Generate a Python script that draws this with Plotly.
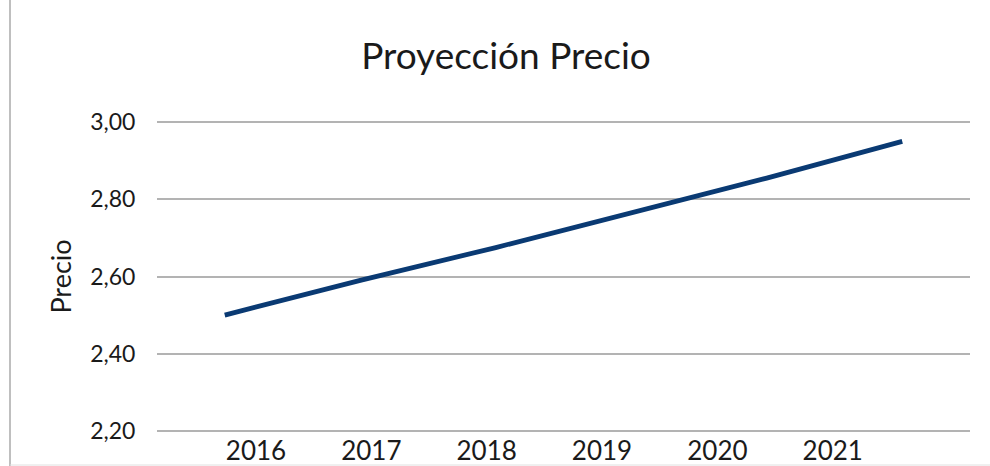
import plotly.graph_objects as go

years = ["2016", "2017", "2018", "2019", "2020", "2021"]
precio = [2.50, 2.59, 2.675, 2.765, 2.855, 2.95]
y_ticks = [2.20, 2.40, 2.60, 2.80, 3.00]

W, H = 990, 466
ML, MR, MT, MB = 157, 20, 119, 32
plot_w = W - ML - MR
plot_h = H - MT - MB

FONT = "Lato, 'Open Sans', sans-serif"
TXT = "#1a1a1a"

fig = go.Figure()
fig.add_trace(go.Scatter(
    x=years, y=precio, mode="lines",
    line=dict(color="#0a3a73", width=4.8),
    showlegend=False, xaxis="x", yaxis="y",
))
# label axis (categories shown with their own spacing, as in the reference)
fig.add_trace(go.Scatter(
    x=years, y=[None] * len(years), mode="lines",
    showlegend=False, hoverinfo="skip", xaxis="x2", yaxis="y",
))

fig.update_layout(
    width=W, height=H,
    margin=dict(l=ML, r=MR, t=MT, b=MB, autoexpand=False),
    paper_bgcolor="white", plot_bgcolor="white",
    separators=",.",
    font=dict(family=FONT, color=TXT),
    title=dict(text="Proyección Precio", x=506 / W, xref="container", xanchor="center",
               y=1 - 56 / H, yanchor="middle", font=dict(size=37, color=TXT)),
    xaxis=dict(type="category", range=[-0.5, 5.5], showticklabels=False, automargin=False,
               showgrid=False, zeroline=False, showline=False, ticks=""),
    xaxis2=dict(type="category", overlaying="x", anchor="y", side="bottom", automargin=False,
                range=[-0.858, 6.19], showgrid=False, zeroline=False, showline=False,
                ticks="", ticklabelstandoff=-1,
                tickfont=dict(size=26, color=TXT)),
    yaxis=dict(range=[2.192, 3.008], tickvals=y_ticks, tickformat=".2f", automargin=False,
               showgrid=True, gridcolor="#b3b3b3", gridwidth=2,
               zeroline=False, showline=False,
               ticks="outside", ticklen=16, tickcolor="rgba(0,0,0,0)",
               tickfont=dict(size=23, color=TXT),
               title=dict(text="Precio", standoff=10, font=dict(size=27, color=TXT))),
    shapes=[
        dict(type="line", xref="paper", yref="paper",
             x0=(10 - ML) / plot_w, x1=(10 - ML) / plot_w,
             y0=-1, y1=2, line=dict(color="#bfbfbf", width=2)),
        dict(type="line", xref="paper", yref="paper",
             x0=(10 - ML) / plot_w, x1=2,
             y0=-(465 - (H - MB)) / plot_h, y1=-(465 - (H - MB)) / plot_h,
             line=dict(color="#e0e0e0", width=1)),
    ],
)

fig.write_html("out.html", config={"displayModeBar": False},
               post_script="document.body.style.margin='0px';")
